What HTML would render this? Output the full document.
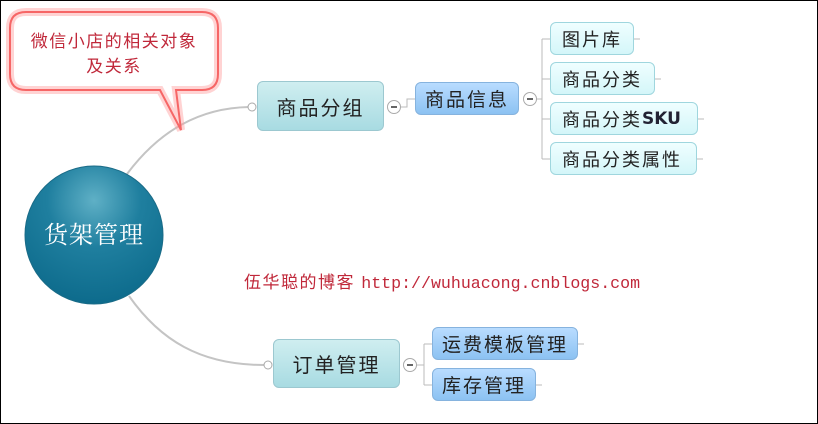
<!DOCTYPE html>
<html><head><meta charset="utf-8"><style>
body{margin:0;width:818px;height:424px;overflow:hidden;background:#fff;font-family:"Liberation Sans","Noto Sans CJK SC",sans-serif}
#f{position:absolute;left:0;top:0;width:816px;height:422px;border:1px solid #000}
.n{position:absolute;box-sizing:border-box;border-radius:6px;display:flex;align-items:center;justify-content:center;color:#222;white-space:nowrap;letter-spacing:2px}
.t{background:linear-gradient(#cfeef0,#a8dbe2);border:1px solid #9cc8d0;font-size:20px}
.b{background:linear-gradient(#b9dcff,#8cc2f2);border:1px solid #86b3de;font-size:19px}
.c{background:linear-gradient(#effeff,#d4f6f9);border:1px solid #9fd6de;font-size:18px;justify-content:flex-start;padding-left:11px}
</style></head><body>
<div id="f"></div>
<svg width="818" height="424" style="position:absolute;left:0;top:0">
<defs>
<radialGradient id="cg" cx="50%" cy="25%" r="75%"><stop offset="0" stop-color="#5fb0c6"/><stop offset="0.45" stop-color="#1f7f9f"/><stop offset="1" stop-color="#0d6b8c"/></radialGradient>
</defs>
<g fill="none" stroke="#c4c4c4" stroke-width="2">
<path d="M127 174 C160 130 200 108 249 107"/>
<path d="M129 296 C160 340 200 365 264 365"/>
</g>
<g fill="none" stroke="#bbb" stroke-width="1">
<path d="M400 107 H407 V99 H415"/>
<path d="M536 99 H542 M542 39 V159 M542 39 H550 M542 79 H550 M542 119 H550 M542 159 H550"/>
<path d="M634 39 H640 M655 79 H661 M698 119 H704 M697 159 H703"/>
<path d="M416 365 H424 M424 344 V385 M424 344 H432 M424 385 H432 M578 344 H584 M536 385 H542"/>
</g>
<g fill="#fff" stroke="#aaa" stroke-width="1">
<circle cx="252" cy="107" r="4"/><circle cx="268" cy="365" r="4"/>
<circle cx="394" cy="107" r="6.5"/><circle cx="530" cy="99" r="6.5"/><circle cx="410" cy="365" r="6.5"/>
</g>
<g stroke="#333" stroke-width="1.5"><path d="M391 107h6M527 99h6M407 365h6"/></g>
<circle cx="94" cy="235" r="69" fill="url(#cg)" stroke="#1a6b87"/>
<text x="94" y="243" fill="#fff" font-size="24" text-anchor="middle" letter-spacing="1" font-family="Noto Serif CJK SC,serif">货架管理</text>
<path d="M26 12 H202 Q218 12 218 28 V74 Q218 90 202 90 H176 L181 130 L160 90 H26 Q10 90 10 74 V28 Q10 12 26 12 Z" fill="#fff" stroke="#ee3a3a" stroke-width="2"/>
<path d="M26 12 H202 Q218 12 218 28 V74 Q218 90 202 90 H176 L181 130 L160 90 H26 Q10 90 10 74 V28 Q10 12 26 12 Z" fill="none" stroke="#ff9d9d" stroke-width="8" opacity="0.45"/>
<text x="114" y="47" fill="#c0283a" font-size="17" letter-spacing="1.5" text-anchor="middle">微信小店的相关对象</text>
<text x="114" y="72" fill="#c0283a" font-size="17" letter-spacing="1.5" text-anchor="middle">及关系</text>
<text x="244" y="288" fill="#c0283a" font-size="17" letter-spacing="1.5">伍华聪的博客 <tspan font-family="Liberation Mono,monospace" font-size="16.6" letter-spacing="0">http://wuhuacong.cnblogs.com</tspan></text>
<path d="M644 131 q2 -2 4 0 t4 0 t4 0 t4 0 t4 0 t4 0 t4 0 t4 0" fill="none" stroke="#e22" stroke-width="1"/>
</svg>
<div class="n t" style="left:257px;top:81px;width:127px;height:50px">商品分组</div>
<div class="n b" style="left:415px;top:82px;width:104px;height:33px">商品信息</div>
<div class="n c" style="left:550px;top:22px;width:84px;height:33px">图片库</div>
<div class="n c" style="left:550px;top:62px;width:105px;height:33px">商品分类</div>
<div class="n c" style="left:550px;top:102px;width:148px;height:33px">商品分类<b style="font-family:'DejaVu Sans',sans-serif;font-size:17px;color:#223;letter-spacing:0">SKU</b></div>
<div class="n c" style="left:550px;top:142px;width:147px;height:33px">商品分类属性</div>
<div class="n t" style="left:273px;top:339px;width:127px;height:49px">订单管理</div>
<div class="n b" style="left:432px;top:327px;width:146px;height:33px;justify-content:flex-start;padding-left:9px">运费模板管理</div>
<div class="n b" style="left:432px;top:368px;width:104px;height:33px;justify-content:flex-start;padding-left:9px">库存管理</div>
</body></html>
